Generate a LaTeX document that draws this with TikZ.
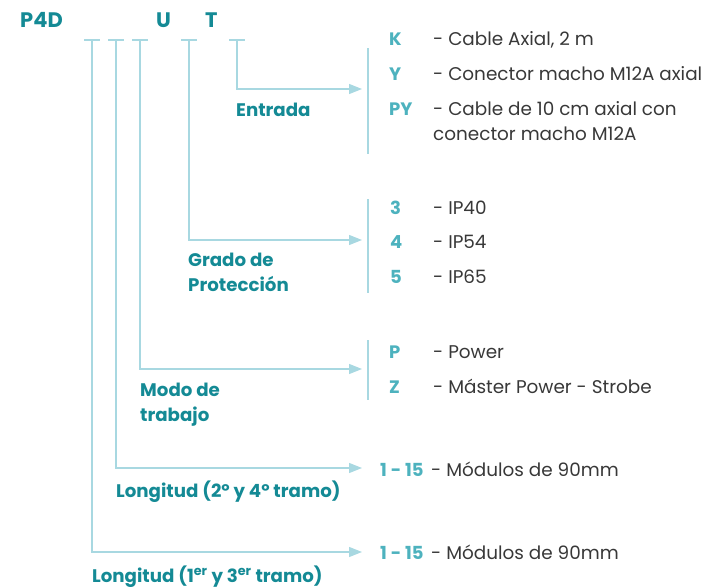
\documentclass[tikz,border=0pt]{standalone}
\usepackage{fontspec}
\setmainfont{Poppins}
\usetikzlibrary{arrows.meta}
\definecolor{labc}{HTML}{148A95}
\definecolor{codec}{HTML}{4DB2BE}
\definecolor{linec}{HTML}{A8D8E1}
\definecolor{txtc}{HTML}{383838}
\newcommand{\twoline}[2]{\begin{tabular}[t]{@{}l@{}}#1\\#2\end{tabular}}
\tikzset{
  lbl/.style={anchor=base west,inner sep=0pt,text=labc,font=\fontsize{18.2}{25}\selectfont\bfseries},
  hdr/.style={anchor=base west,inner sep=0pt,text=labc,font=\fontsize{21}{25}\selectfont\bfseries},
  code/.style={anchor=base west,inner sep=0pt,text=codec,font=\fontsize{18}{25}\selectfont\bfseries},
  desc/.style={anchor=base west,inner sep=0pt,text=txtc,font=\fontsize{18.4}{25}\selectfont},
  ln/.style={draw=linec,line width=1.2pt},
  arr/.style={ln,-{Triangle[length=13pt,width=10pt,fill=linec]}},
}
\begin{document}
\begin{tikzpicture}[x=1pt,y=-1pt]
\useasboundingbox (0,0) rectangle (710,587);
% header
\node[hdr] (p4d) at (20,27) {P4D};
\node[hdr] (u) at (156,27) {U};
\node[hdr] (t) at (205,27) {T};
% ticks
\foreach \n/\x in {a/92,b/116,c/140,d/189,e/237}{
  \draw[ln] (\x-8,40) -- (\x+8,40);
  \coordinate (top\n) at (\x,40);
}
% bars
\draw[ln] (368,48) -- (368,154);
\draw[ln] (368,199) -- (368,293);
\draw[ln] (368,340) -- (368,400);
% connectors
\coordinate (ea) at (362,89);
\coordinate (eb) at (362,240);
\coordinate (ec) at (362,369);
\coordinate (ed) at (362,468);
\coordinate (ee) at (362,552);
\draw[arr] (tope) |- (ea);
\draw[arr] (topd) |- (eb);
\draw[arr] (topc) |- (ec);
\draw[arr] (topb) |- (ed);
\draw[arr] (topa) |- (ee);
% labels
\node[lbl] (entrada) at (236,116) {Entrada};
\node[lbl] (grado) at (188,266) {\twoline{Grado de}{Protección}};
\node[lbl] (modo) at (140,396) {\twoline{Modo de}{trabajo}};
\node[lbl] (long2) at (116,497) {Longitud (2º y 4º tramo)};
\node[lbl] (long1) at (92,582) {Longitud (1\textsuperscript{er} y 3\textsuperscript{er} tramo)};
% entrada options
\node[code] (k) at (389,45) {K};
\node[code] (y) at (389,80) {Y};
\node[code] (py) at (389,115) {PY};
\node[desc] (dk) at (433,45) {- Cable Axial, 2 m};
\node[desc] (dy) at (433,80) {- Conector macho M12A axial};
\node[desc] (dpy) at (433,115) {\twoline{- Cable de 10 cm axial con}{conector macho M12A}};
% grado options
\node[code] (g3) at (390,214) {3};
\node[code] (g4) at (390,248) {4};
\node[code] (g5) at (390,283) {5};
\node[desc] (d3) at (433,214) {- IP40};
\node[desc] (d4) at (433,248) {- IP54};
\node[desc] (d5) at (433,283) {- IP65};
% modo options
\node[code] (mp) at (389,358) {P};
\node[code] (mz) at (389,393) {Z};
\node[desc] (dp) at (433,358) {- Power};
\node[desc] (dz) at (433,393) {- Máster Power - Strobe};
% longitud options
\node[code] (l2) at (380,476) {1 - 15};
\node[desc] (dl2) at (431,476) {- Módulos de 90mm};
\node[code] (l1) at (380,559) {1 - 15};
\node[desc] (dl1) at (431,559) {- Módulos de 90mm};
\end{tikzpicture}
\end{document}
